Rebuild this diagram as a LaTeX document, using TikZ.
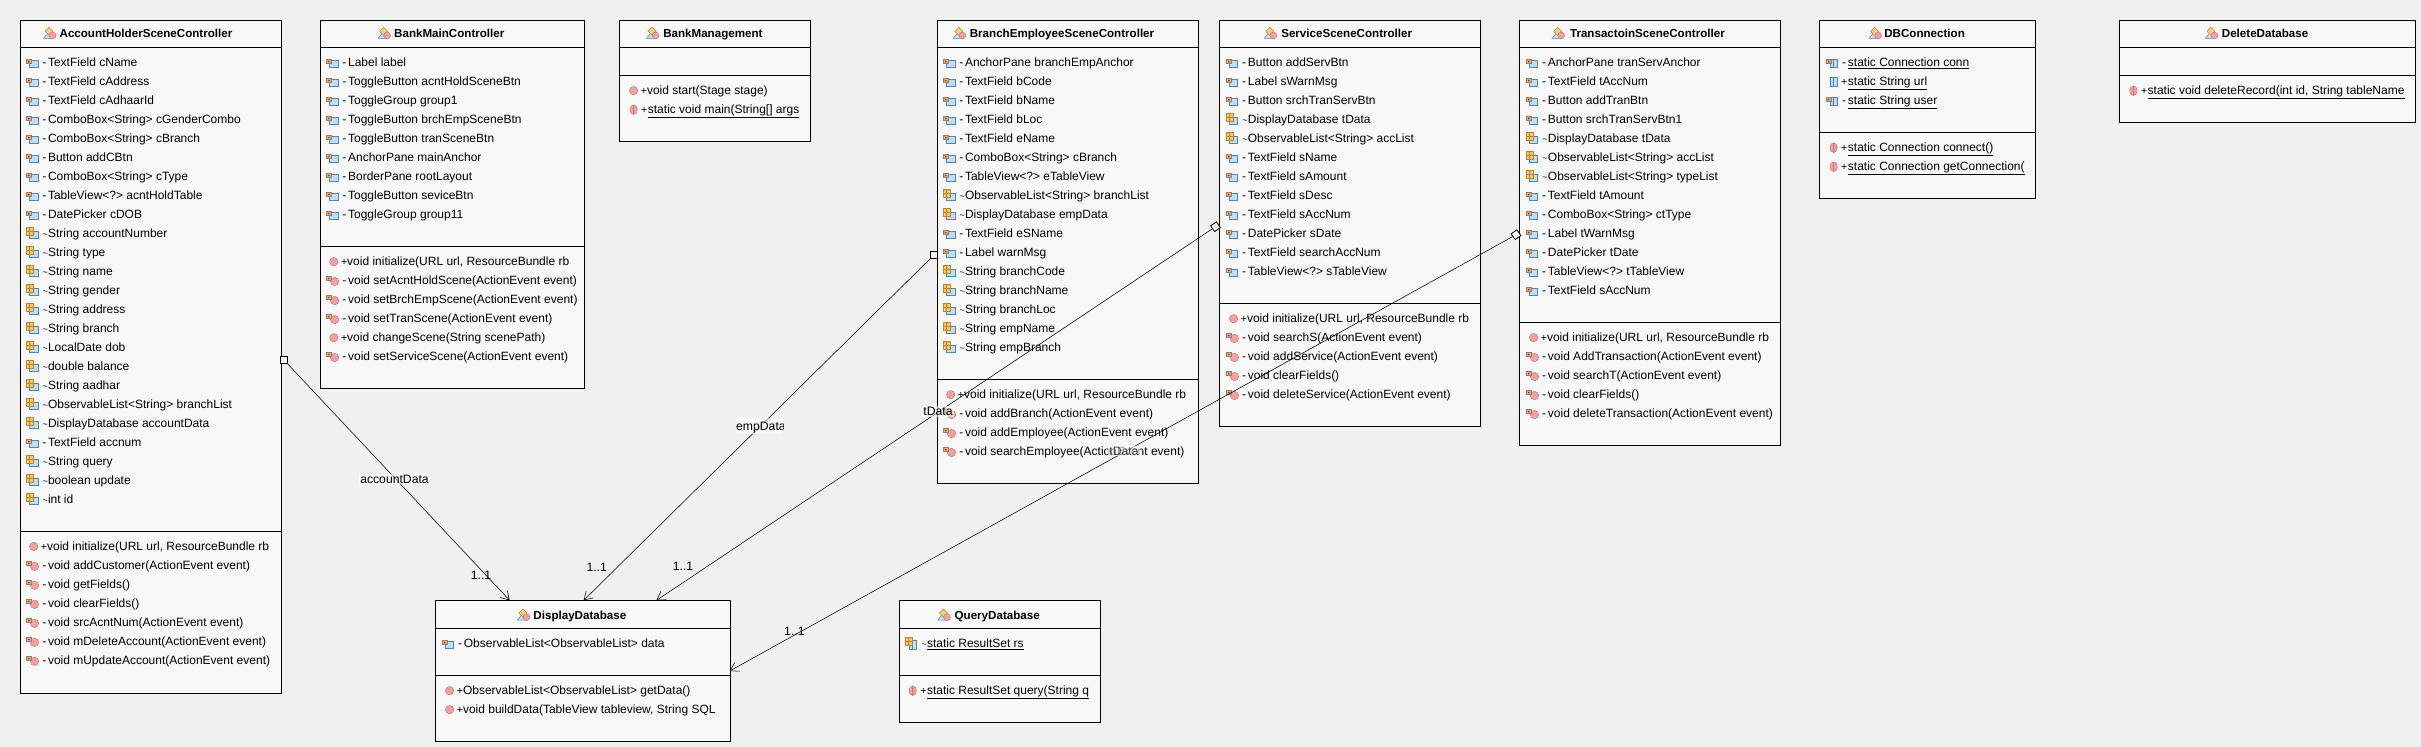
\documentclass[tikz,border=0pt]{standalone}
\usepackage{fontspec}
\setmainfont{Liberation Sans}
\usetikzlibrary{arrows.meta}
\definecolor{bgc}{HTML}{F0F0F0}
\definecolor{boxc}{HTML}{F8F8F8}
\definecolor{docf}{HTML}{BFDDF5}
\definecolor{docd}{HTML}{4F86B8}
\definecolor{lockf}{HTML}{E8A868}
\definecolor{lockd}{HTML}{8C8078}
\definecolor{gridf}{HTML}{F2C868}
\definecolor{gridd}{HTML}{B8862C}
\definecolor{ballf}{HTML}{F2A0A0}
\definecolor{balld}{HTML}{C87878}
\definecolor{diaf}{HTML}{F5D080}
\tikzset{
  umlbox/.style={draw=black,fill=boxc,line width=1pt,rectangle,inner sep=0pt,anchor=north west},
  sepline/.style={draw=black,line width=1pt},
  rowtext/.style={anchor=base west,inner sep=0pt,outer sep=0pt,text=black,font=\fontsize{12}{14}\selectfont},
  titletext/.style={anchor=base,inner sep=0pt,text=black,font=\fontsize{11.6}{13}\selectfont\bfseries},
  assoc/.style={draw=black,line width=.55pt,-{Straight Barb[length=8pt,width=10pt,line width=.55pt]}},
  endsq/.style={draw=black,fill=boxc,line width=.8pt,rectangle,minimum size=7pt,inner sep=0pt},
  rolelabel/.style={inner sep=1pt,fill=white,fill opacity=.55,text opacity=1,font=\fontsize{12.2}{14}\selectfont},
  multlabel/.style={inner sep=0pt,font=\fontsize{12.2}{14}\selectfont},
  lockpart/.pic={
    \fill[lockd] (-5.8,-2.8) arc[start angle=180,end angle=0,radius=2.6] -- cycle;
    \draw[draw=lockd,fill=lockf,line width=.5pt] (-5.8,-3) rectangle (-.6,.9);
    \fill[red!70!black] (-3.2,-1.1) circle[radius=.7];
  },
  docpart/.pic={\draw[draw=docd,fill=docf,line width=.6pt] (-2.5,-2.2) rectangle (5.8,4.3);},
  gridpart/.pic={
    \draw[draw=gridd,fill=gridf,line width=.6pt] (-6,-6) rectangle (1.4,1.4);
    \draw[gridd,line width=.5pt] (-2.3,-6) -- (-2.3,1.4) (-6,-2.3) -- (1.4,-2.3);
  },
  colpart/.pic={
    \draw[draw=docd,fill=docf,line width=.6pt] (-3.4,-4.4) rectangle (3.4,4.4);
    \draw[docd,line width=.5pt] (0,-4.4) -- (0,4.4);
  },
  fprv/.pic={\pic at (0,0) {docpart}; \pic at (0,0) {lockpart};},
  fpkg/.pic={\pic at (0,0) {docpart}; \pic at (0,0) {gridpart};},
  sprv/.pic={\pic at (1.5,.5) {colpart}; \pic at (0,0) {lockpart};},
  spub/.pic={\pic at (1.5,0) {colpart};},
  spkg/.pic={\pic at (1.5,1) {colpart}; \pic at (0,0) {gridpart};},
  mpub/.pic={\draw[draw=balld,fill=ballf,line width=.5pt] (1.7,0) circle[radius=4.2];},
  mprv/.pic={\draw[draw=balld,fill=ballf,line width=.5pt] (2.5,.8) circle[radius=4.2]; \pic at (0,-1) {lockpart};},
  mstc/.pic={
    \draw[draw=balld,fill=ballf,line width=.5pt] (1.7,0) ellipse[x radius=3.7,y radius=4.8];
    \draw[balld,line width=.5pt] (1.7,-4.8) -- (1.7,4.8);
  },
  clsicon/.pic={
    \draw[draw=docd,fill=docf,line width=.5pt] (-6.5,5) -- (-2,-.5) -- (3,5) -- cycle;
    \draw[draw=gridd,fill=diaf,line width=.5pt] (-1,-6) -- (3,-2) -- (-1,2) -- (-5,-2) -- cycle;
    \draw[draw=balld,fill=ballf,line width=.5pt] (2.6,2.2) circle[radius=3.4];
  }
}
\newcounter{rowc}
\newcommand{\classbox}[7]{%
  \pgfmathsetmacro\bw{#4-#2}\pgfmathsetmacro\bh{#5-#3}%
  \node[umlbox,minimum width=\bw pt,minimum height=\bh pt] (#1) at (#2,#3) {};
  \draw[sepline] (#2,#6) -- (#4,#6) (#2,#7) -- (#4,#7);
}
\newcommand{\classtitle}[4]{%
  \pic at (#1,#3) {clsicon};
  \stepcounter{rowc}%
  \node[titletext] (t\arabic{rowc}) at (#2,#3+4.2) {#4};
}
\newcommand{\startrows}[2]{\def\rowl{#1}\def\rowy{#2}}
\newcommand{\rowitem}[5]{% kind, sign offset, sign, text offset, text
  \pic at (\rowl+12.5,\rowy) {#1};
  \stepcounter{rowc}%
  \node[rowtext] (s\arabic{rowc}) at (\rowl+#2,\rowy+4.1) {#3};
  \node[rowtext] (r\arabic{rowc}) at (\rowl+#4,\rowy+4.1) {#5};
  \pgfmathsetmacro\rowy{\rowy+19}%
}
\newcommand{\sgnP}{{\fontsize{10.5}{10}\selectfont +}}
\newcommand{\sgnT}{{\fontsize{9}{10}\selectfont \textasciitilde}}
\newcommand{\Fp}[1]{\rowitem{fprv}{22.8}{-}{28.5}{#1}}
\newcommand{\Fk}[1]{\rowitem{fpkg}{23}{\sgnT}{28.5}{#1}}
\newcommand{\Mu}[1]{\rowitem{mpub}{21.4}{\sgnP}{27.6}{#1}}
\newcommand{\Mp}[1]{\rowitem{mprv}{22.8}{-}{28.5}{#1}}
\newcommand{\Ms}[1]{\rowitem{mstc}{21.8}{\sgnP}{28.5}{\underline{#1}}}
\begin{document}
\begin{tikzpicture}[x=1pt,y=-1pt]
\fill[bgc] (0,0) rectangle (2421,747);
\useasboundingbox (0,0) rectangle (2421,747);

% ---------- AccountHolderSceneController
\classbox{acc}{19.5}{19.5}{280.5}{692.5}{47.5}{531}
\classtitle{50}{146}{33.3}{AccountHolderSceneController}
\begin{scope}
\clip (19.5,47.5) rectangle (274.5,692.5);
\startrows{19.5}{62.7}
\Fp{TextField cName}
\Fp{TextField cAddress}
\Fp{TextField cAdhaarId}
\Fp{ComboBox<String> cGenderCombo}
\Fp{ComboBox<String> cBranch}
\Fp{Button addCBtn}
\Fp{ComboBox<String> cType}
\Fp{TableView<?> acntHoldTable}
\Fp{DatePicker cDOB}
\Fk{String accountNumber}
\Fk{String type}
\Fk{String name}
\Fk{String gender}
\Fk{String address}
\Fk{String branch}
\Fk{LocalDate dob}
\Fk{double balance}
\Fk{String aadhar}
\Fk{ObservableList<String> branchList}
\Fk{DisplayDatabase accountData}
\Fp{TextField accnum}
\Fk{String query}
\Fk{boolean update}
\Fk{int id}
\startrows{19.5}{546.5}
\Mu{void initialize(URL url, ResourceBundle rb}
\Mp{void addCustomer(ActionEvent event)}
\Mp{void getFields()}
\Mp{void clearFields()}
\Mp{void srcAcntNum(ActionEvent event)}
\Mp{void mDeleteAccount(ActionEvent event)}
\Mp{void mUpdateAccount(ActionEvent event)}
\end{scope}

% ---------- BankMainController
\classbox{bmc}{319.6}{19.5}{583.6}{388.3}{47.5}{246.7}
\classtitle{384.6}{449.3}{33.3}{BankMainController}
\begin{scope}
\clip (319.6,47.5) rectangle (577.6,388.3);
\startrows{319.6}{62.7}
\Fp{Label label}
\Fp{ToggleButton acntHoldSceneBtn}
\Fp{ToggleGroup group1}
\Fp{ToggleButton brchEmpSceneBtn}
\Fp{ToggleButton tranSceneBtn}
\Fp{AnchorPane mainAnchor}
\Fp{BorderPane rootLayout}
\Fp{ToggleButton seviceBtn}
\Fp{ToggleGroup group11}
\startrows{319.6}{261.7}
\Mu{void initialize(URL url, ResourceBundle rb}
\Mp{void setAcntHoldScene(ActionEvent event)}
\Mp{void setBrchEmpScene(ActionEvent event)}
\Mp{void setTranScene(ActionEvent event)}
\Mu{void changeScene(String scenePath)}
\Mp{void setServiceScene(ActionEvent event)}
\end{scope}

% ---------- BankManagement
\classbox{bm}{619.4}{19.5}{809.6}{141.3}{47.5}{75.3}
\classtitle{653}{712.9}{33.3}{BankManagement}
\begin{scope}
\clip (619.4,75.3) rectangle (803.6,141.3);
\startrows{619.4}{90.7}
\Mu{void start(Stage stage)}
\Ms{static void main(String[] args}
\end{scope}

% ---------- BranchEmployeeSceneController
\classbox{bes}{936.5}{19.5}{1197.5}{483.3}{47.5}{379.3}
\classtitle{959.8}{1062}{33.3}{BranchEmployeeSceneController}
\begin{scope}
\clip (936.5,47.5) rectangle (1191.5,483.3);
\startrows{936.5}{62.7}
\Fp{AnchorPane branchEmpAnchor}
\Fp{TextField bCode}
\Fp{TextField bName}
\Fp{TextField bLoc}
\Fp{TextField eName}
\Fp{ComboBox<String> cBranch}
\Fp{TableView<?> eTableView}
\Fk{ObservableList<String> branchList}
\Fk{DisplayDatabase empData}
\Fp{TextField eSName}
\Fp{Label warnMsg}
\Fk{String branchCode}
\Fk{String branchName}
\Fk{String branchLoc}
\Fk{String empName}
\Fk{String empBranch}
\startrows{936.5}{394.7}
\Mu{void initialize(URL url, ResourceBundle rb}
\Mp{void addBranch(ActionEvent event)}
\Mp{void addEmployee(ActionEvent event)}
\Mp{void searchEmployee(ActionEvent event)}
\end{scope}

% ---------- ServiceSceneController
\classbox{ssc}{1219.4}{19.5}{1480.4}{426.3}{47.5}{303.3}
\classtitle{1270.8}{1346.7}{33.3}{ServiceSceneController}
\begin{scope}
\clip (1219.4,47.5) rectangle (1474.4,426.3);
\startrows{1219.4}{62.7}
\Fp{Button addServBtn}
\Fp{Label sWarnMsg}
\Fp{Button srchTranServBtn}
\Fk{DisplayDatabase tData}
\Fk{ObservableList<String> accList}
\Fp{TextField sName}
\Fp{TextField sAmount}
\Fp{TextField sDesc}
\Fp{TextField sAccNum}
\Fp{DatePicker sDate}
\Fp{TextField searchAccNum}
\Fp{TableView<?> sTableView}
\startrows{1219.4}{318.7}
\Mu{void initialize(URL url, ResourceBundle rb}
\Mp{void searchS(ActionEvent event)}
\Mp{void addService(ActionEvent event)}
\Mp{void clearFields()}
\Mp{void deleteService(ActionEvent event)}
\end{scope}

% ---------- TransactoinSceneController
\classbox{tsc}{1519.4}{19.5}{1780.4}{445.3}{47.5}{322.3}
\classtitle{1558.6}{1647.4}{33.3}{TransactoinSceneController}
\begin{scope}
\clip (1519.4,47.5) rectangle (1774.4,445.3);
\startrows{1519.4}{62.7}
\Fp{AnchorPane tranServAnchor}
\Fp{TextField tAccNum}
\Fp{Button addTranBtn}
\Fp{Button srchTranServBtn1}
\Fk{DisplayDatabase tData}
\Fk{ObservableList<String> accList}
\Fk{ObservableList<String> typeList}
\Fp{TextField tAmount}
\Fp{ComboBox<String> ctType}
\Fp{Label tWarnMsg}
\Fp{DatePicker tDate}
\Fp{TableView<?> tTableView}
\Fp{TextField sAccNum}
\startrows{1519.4}{337.7}
\Mu{void initialize(URL url, ResourceBundle rb}
\Mp{void AddTransaction(ActionEvent event)}
\Mp{void searchT(ActionEvent event)}
\Mp{void clearFields()}
\Mp{void deleteTransaction(ActionEvent event)}
\end{scope}

% ---------- DBConnection
\classbox{dbc}{1819.4}{19.5}{2035.2}{198.3}{47.5}{132.3}
\classtitle{1875.6}{1924.6}{33.3}{DBConnection}
\begin{scope}
\clip (1819.4,47.5) rectangle (2029.2,198.3);
\startrows{1819.4}{62.7}
\rowitem{sprv}{22.8}{-}{28.5}{\underline{static Connection conn}}
\rowitem{spub}{21.8}{\sgnP}{28.5}{\underline{static String url}}
\rowitem{sprv}{22.8}{-}{28.5}{\underline{static String user}}
\startrows{1819.4}{147.7}
\Ms{static Connection connect()}
\Ms{static Connection getConnection(}
\end{scope}

% ---------- DeleteDatabase
\classbox{ddb}{2119.2}{19.5}{2415.4}{122.3}{47.5}{75.3}
\classtitle{2211.9}{2265.1}{33.3}{DeleteDatabase}
\begin{scope}
\clip (2119.2,75.3) rectangle (2409.4,122.3);
\startrows{2119.2}{90.7}
\Ms{static void deleteRecord(int id, String tableName}
\end{scope}

% ---------- DisplayDatabase
\classbox{dis}{435.4}{600.3}{729.7}{741}{628.3}{675.3}
\classtitle{523.9}{579.9}{615}{DisplayDatabase}
\begin{scope}
\clip (435.4,628.3) rectangle (723.7,741);
\startrows{435.4}{643.7}
\Fp{ObservableList<ObservableList> data}
\startrows{435.4}{690.7}
\Mu{ObservableList<ObservableList> getData()}
\Mu{void buildData(TableView tableview, String SQL}
\end{scope}

% ---------- QueryDatabase
\classbox{qdb}{898.5}{600.3}{1099.5}{722.3}{628.3}{675.3}
\classtitle{944.4}{997.2}{615}{QueryDatabase}
\begin{scope}
\clip (898.5,628.3) rectangle (1093.5,722.3);
\startrows{898.5}{643.7}
\rowitem{spkg}{23}{\sgnT}{28.5}{\underline{static ResultSet rs}}
\startrows{898.5}{690.7}
\Ms{static ResultSet query(String q}
\end{scope}

% ---------- Associations
\node[endsq] (srcA) at (284,360) {};
\node[endsq] (srcB) at (934,255) {};
\node[endsq,rotate=35] (srcC) at (1215.5,226.7) {};
\node[endsq,rotate=35] (srcD) at (1516,234.7) {};
\coordinate (dstA) at (509.6,600.3);
\coordinate (dstB) at (583.7,600.3);
\coordinate (dstC) at (656.5,600.3);
\coordinate (dstD) at (729.7,671);
\draw[assoc] (srcA) -- (dstA);
\draw[assoc] (srcB) -- (dstB);
\draw[assoc] (srcC) -- (dstC);
\draw[assoc] (srcD) -- (dstD);

\node[rolelabel] (labA) at (394.5,479) {accountData};
\begin{scope}
\clip (735.7,417.7) rectangle (783,434);
\node[rolelabel,minimum width=47.3pt,minimum height=16.3pt] (labB) at (759.3,425.8) {};
\node[multlabel,anchor=base west] (labBt) at (736,430) {empData};
\end{scope}
\node[rolelabel] (labC) at (938,411.7) {tData};
\node[rolelabel,fill opacity=.6,text=black!75] (labD) at (1124,451) {tData};
\node[multlabel] (mA) at (481,575) {1..1};
\node[multlabel] (mB) at (596.7,567.7) {1..1};
\node[multlabel] (mC) at (683,566) {1..1};
\node[multlabel] (mD) at (794.4,631.7) {1..1};
\end{tikzpicture}
\end{document}
